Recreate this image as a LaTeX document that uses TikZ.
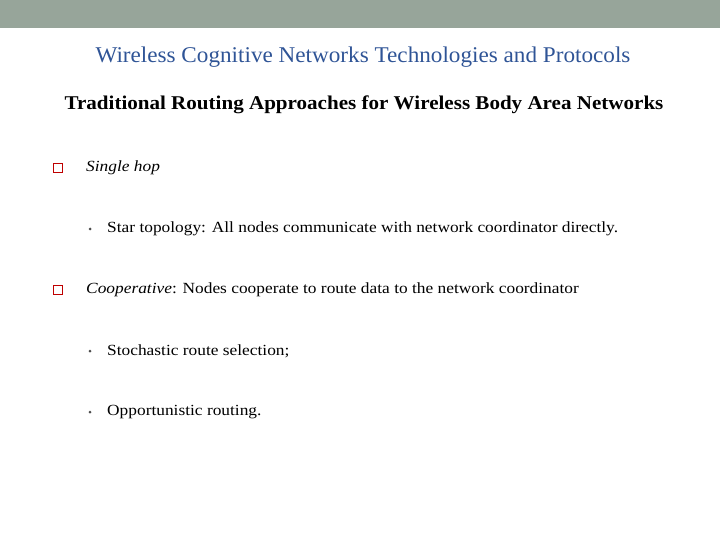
\documentclass[tikz,border=0pt]{standalone}
\usepackage{fontspec}
\usepackage{graphicx}
\setmainfont{Liberation Serif}
\newcommand{\wide}[1]{\scalebox{1.12}[1]{#1}}
\begin{document}
\begin{tikzpicture}[x=1pt,y=-1pt,
  body/.style={anchor=west,inner sep=0pt,font=\fontsize{15.5}{18}\selectfont},
  qbox/.style={draw=red!75!black,line width=0.9pt,minimum size=9.5pt,inner sep=0pt},
  dot/.style={circle,fill=black!70,minimum size=3pt,inner sep=0pt}]
\useasboundingbox (0,0) rectangle (720,540);
\fill[fill={rgb,255:red,151;green,165;blue,154}] (0,0) rectangle (720,28);
\node[inner sep=0pt,text={rgb,255:red,47;green,84;blue,150},font=\fontsize{22.5}{26}\selectfont] (title) at (363,57) {\scalebox{1.03}[1]{Wireless Cognitive Networks Technologies and Protocols}};
\node[inner sep=0pt,font=\bfseries\fontsize{19.5}{22}\selectfont] (sub) at (364,105) {\scalebox{1.08}[1]{Traditional Routing Approaches for Wireless Body Area Networks}};
\node[qbox] (q1) at (58,168) {};
\node[body] (t1) at (86,168) {\wide{\itshape Single hop}};
\node[dot] (d1) at (90,229) {};
\node[body] (t2) at (107,229) {\wide{Star topology: All nodes communicate with network coordinator directly.}};
\node[qbox] (q2) at (58,290) {};
\node[body] (t3) at (86,290) {\wide{\itshape Cooperative\upshape: Nodes cooperate to route data to the network coordinator}};
\node[dot] (d2) at (90,351) {};
\node[body] (t4) at (107,351) {\wide{Stochastic route selection;}};
\node[dot] (d3) at (90,412) {};
\node[body] (t5) at (107,412) {\wide{Opportunistic routing.}};
\end{tikzpicture}
\end{document}
